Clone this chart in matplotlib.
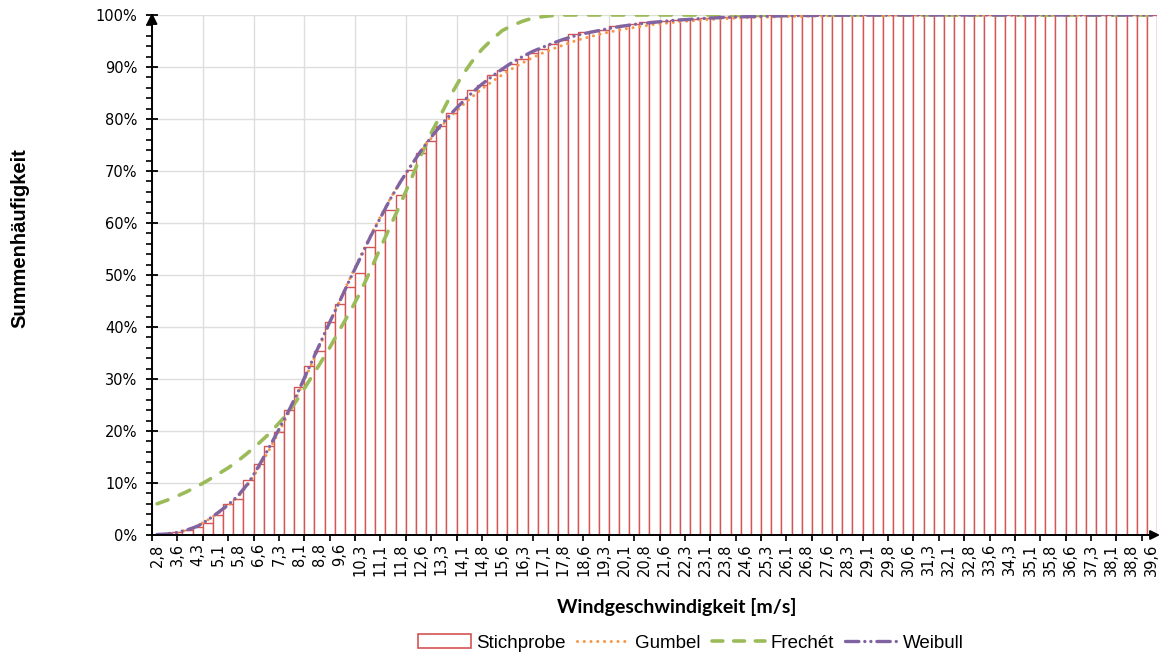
import numpy as np
import matplotlib
matplotlib.use("Agg")
import matplotlib.pyplot as plt
from matplotlib.patches import Rectangle
from matplotlib.lines import Line2D
from matplotlib.ticker import FixedLocator, PercentFormatter

# ---------------- data ----------------
x_labels = ["2,8", "3,6", "4,3", "5,1", "5,8", "6,6", "7,3", "8,1", "8,8", "9,6",
            "10,3", "11,1", "11,8", "12,6", "13,3", "14,1", "14,8", "15,6", "16,3", "17,1",
            "17,8", "18,6", "19,3", "20,1", "20,8", "21,6", "22,3", "23,1", "23,8", "24,6",
            "25,3", "26,1", "26,8", "27,6", "28,3", "29,1", "29,8", "30,6", "31,3", "32,1",
            "32,8", "33,6", "34,3", "35,1", "35,8", "36,6", "37,3", "38,1", "38,8", "39,6"]
n_categories = 99

# Stichprobe (cumulative sample frequency, %)
stichprobe = [0.0, 0.2, 0.5, 1.0, 1.6, 2.4, 3.8, 5.9, 7.0, 10.6,
              13.7, 17.2, 19.9, 24.0, 28.4, 32.5, 35.4, 41.0, 44.4, 47.6,
              50.3, 55.4, 58.7, 62.5, 65.4, 70.2, 73.4, 75.8, 78.6, 81.1,
              83.8, 85.6, 86.5, 88.5, 89.4, 90.6, 91.6, 92.6, 93.4, 94.4,
              95.2, 96.3, 96.7, 96.9, 97.1, 97.8, 98.0, 98.2, 98.6, 98.8,
              98.9, 99.1, 99.2, 99.3, 99.5, 99.6, 99.7, 99.8, 99.9, 99.9] + [100.0] * 39

gumbel = [0.0, 0.1, 0.4, 1.0, 1.8, 2.9, 4.2, 5.6, 7.4, 9.8,
          12.8, 16.2, 19.8, 23.6, 27.6, 31.9, 36.3, 40.7, 45.1, 49.4,
          53.5, 57.5, 61.2, 64.8, 68.0, 71.0, 73.8, 76.3, 78.6, 80.6,
          82.5, 84.2, 85.8, 87.2, 88.5, 89.7, 90.8, 91.8, 92.7, 93.5,
          94.2, 94.9, 95.5, 96.0, 96.5, 96.9, 97.3, 97.6, 97.9, 98.2,
          98.4, 98.6, 98.8, 98.95, 99.1, 99.2, 99.3, 99.4, 99.5, 99.55,
          99.6, 99.65, 99.7, 99.74, 99.78, 99.81, 99.84, 99.86, 99.88, 99.9,
          99.92, 99.93, 99.94, 99.95, 99.96, 99.97, 99.97, 99.98, 99.98, 99.99] + [100.0] * 19

frechet = [6.0, 6.7, 7.5, 8.4, 9.4, 10.5, 11.7, 12.9, 14.3, 15.9,
           17.6, 19.4, 21.5, 23.7, 26.6, 29.7, 32.8, 36.0, 39.5, 42.9,
           46.6, 50.8, 55.2, 59.5, 63.8, 68.3, 73.0, 77.3, 81.0, 84.8,
           88.2, 91.0, 93.4, 95.3, 97.0, 98.0, 98.8, 99.4, 99.7, 99.9] + [100.0] * 59

weibull = [0.1, 0.2, 0.5, 1.0, 1.7, 2.9, 4.3, 5.8, 7.6, 10.0,
           13.2, 16.7, 20.3, 24.0, 28.0, 32.3, 36.6, 40.9, 45.0, 49.2,
           53.2, 57.3, 61.0, 64.7, 68.0, 71.0, 73.9, 76.5, 78.9, 81.1,
           83.1, 85.0, 86.7, 88.2, 89.6, 90.9, 92.0, 93.0, 93.8, 94.6,
           95.3, 95.9, 96.4, 96.8, 97.2, 97.6, 97.9, 98.2, 98.4, 98.6,
           98.8, 99.0, 99.1, 99.25, 99.35, 99.45, 99.55, 99.6, 99.67, 99.72,
           99.77, 99.81, 99.85, 99.88, 99.9, 99.92, 99.94, 99.95, 99.96, 99.97,
           99.98, 99.99, 99.99] + [100.0] * 26

# ---------------- styles ----------------
bar_edge = "#D65454"
c_gumbel = "#F79646"
c_frechet = "#9BBB59"
c_weibull = "#8064A2"
grid_c = "#DEDEDE"

fig = plt.figure(figsize=(11.6, 6.57), dpi=100)
ax = fig.add_axes([152 / 1160, 1 - 535 / 657, 1005 / 1160, 520 / 657])

idx = np.arange(n_categories)
frac = lambda a: np.asarray(a) / 100.0

ax.bar(idx, frac(stichprobe), width=1.0, facecolor="white",
       edgecolor=bar_edge, linewidth=1.0, zorder=2)

ls_gumbel = (0, (0.01, 2.2))
ls_frechet = (0, (3.2, 3.4))
ls_weibull = (0, (4.0, 1.8, 0.01, 1.8, 0.01, 1.8))

ax.plot(idx, frac(gumbel), color=c_gumbel, lw=2.2, linestyle=ls_gumbel,
        dash_capstyle="round", zorder=4)
ax.plot(idx, frac(frechet), color=c_frechet, lw=2.6, linestyle=ls_frechet,
        dash_capstyle="round", zorder=3)
ax.plot(idx, frac(weibull), color=c_weibull, lw=2.4, linestyle=ls_weibull,
        dash_capstyle="round", zorder=5)

ax.set_xlim(-0.5, n_categories - 0.5)
ax.set_ylim(0, 1)

# grid
ax.set_axisbelow(True)
ax.yaxis.set_major_locator(FixedLocator(np.arange(0, 1.001, 0.1)))
ax.yaxis.set_minor_locator(FixedLocator(np.arange(0, 1.001, 0.02)))
ax.yaxis.set_major_formatter(PercentFormatter(1.0, decimals=0))
major_x = np.arange(-0.5, n_categories, 5)
minor_x = np.arange(2.0, n_categories, 5)
ax.xaxis.set_major_locator(FixedLocator(major_x))
ax.xaxis.set_minor_locator(FixedLocator(minor_x))
ax.set_xticklabels([])
ax.grid(True, which="major", color=grid_c, lw=1.0, zorder=0)

for s in ["top", "right"]:
    ax.spines[s].set_visible(False)
for s in ["left", "bottom"]:
    ax.spines[s].set_color("black")
    ax.spines[s].set_linewidth(1.4)
    ax.spines[s].set_zorder(6)

ax.tick_params(axis="y", which="major", direction="inout", length=9, width=1.3,
               labelsize=10.5, pad=6, colors="black")
ax.tick_params(axis="y", which="minor", direction="out", length=4.5, width=1.2)
ax.tick_params(axis="x", which="major", direction="inout", length=8, width=1.3)
ax.tick_params(axis="x", which="minor", direction="out", length=4.5, width=1.2)
for t in ax.get_yticklabels():
    t.set_fontfamily("DejaVu Sans")

# category labels via secondary axis
sec = ax.secondary_xaxis("bottom")
sec.set_xticks(idx[::2][:len(x_labels)], x_labels)
sec.tick_params(axis="x", length=0, pad=6, labelsize=10.5, labelrotation=90)
sec.spines["bottom"].set_visible(False)

# arrow heads
ax.annotate("", xy=(0, 1.004), xytext=(0, 0.97), xycoords="axes fraction",
            arrowprops=dict(arrowstyle="-|>", color="black", lw=1.4,
                            mutation_scale=16, shrinkA=0, shrinkB=0), zorder=7)
ax.annotate("", xy=(1.003, 0), xytext=(0.985, 0), xycoords="axes fraction",
            arrowprops=dict(arrowstyle="-|>", color="black", lw=1.4,
                            mutation_scale=14, shrinkA=0, shrinkB=0), zorder=7)

# axis titles
fig.text(20 / 1160, 1 - 238 / 657, "Summenhäufigkeit", rotation=90,
         ha="center", va="center", fontsize=14.5, fontweight="bold",
         family="Liberation Sans")
fig.text(677 / 1160, 1 - 607 / 657, "Windgeschwindigkeit [m/s]",
         ha="center", va="center", fontsize=14, fontweight="bold", family="Lato")

# legend
handles = [
    Rectangle((0, 0), 1, 1, facecolor="white", edgecolor=bar_edge, lw=1.2),
    Line2D([], [], color=c_gumbel, lw=2.2, linestyle=ls_gumbel, dash_capstyle="round"),
    Line2D([], [], color=c_frechet, lw=2.6, linestyle=(0, (3.0, 3.0)), dash_capstyle="round"),
    Line2D([], [], color=c_weibull, lw=2.4, linestyle=ls_weibull, dash_capstyle="round"),
]
labels = ["Stichprobe", "Gumbel", "Frechét", "Weibull"]
fig.legend(handles, labels, loc="center", bbox_to_anchor=(691 / 1160, 1 - 643 / 657),
           ncol=4, frameon=False, prop={"family": "Liberation Sans", "size": 13.5},
           handlelength=2.8, handleheight=0.75, handletextpad=0.3, columnspacing=0.6)

fig.savefig("out.png", dpi=100)
